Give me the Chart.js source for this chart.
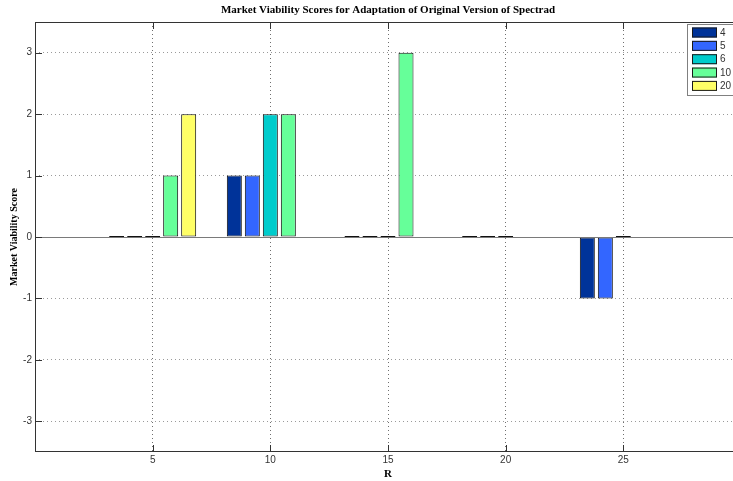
<!DOCTYPE html>
<html>
<head>
<meta charset="utf-8">
<script src="https://cdn.jsdelivr.net/npm/chart.js@4/dist/chart.umd.min.js"></script>
<style>
  html, body { margin: 0; padding: 0; overflow: hidden; background: #fff; width: 733px; height: 481px; }
  #wrap { position: absolute; left: 0; top: 0; width: 745px; height: 481px; }
</style>
</head>
<body>
<div id="wrap"><canvas id="c" width="745" height="481"></canvas></div>
<script>
// R values (group positions) and the score of each series at that R
const rValues = [5, 10, 15, 20, 25];
const seriesNames = ['4', '5', '6', '10', '20'];
const score4  = [0, 1, 0, 0, -1];
const score5  = [0, 1, 0, 0, -1];
const score6  = [0, 2, 0, 0, 0];
const score10 = [1, 2, 3, null, null];
const score20 = [2, null, null, null, null];
const xTicks = [5, 10, 15, 20, 25];
const yTicks = [-3, -2, -1, 0, 1, 2, 3];
const seriesColors = ['#003399', '#3366ff', '#00cccc', '#66ff99', '#ffff66'];

const allScores = [score4, score5, score6, score10, score20];

const datasets = allScores.map((arr, k) => ({
  label: seriesNames[k],
  data: rValues.map((x, i) => ({ x: x, y: arr[i] })),
  backgroundColor: seriesColors[k],
  borderColor: '#111111',
  borderWidth: 1,
  borderSkipped: false,
  minBarLength: 2,
  categoryPercentage: 0.765,
  barPercentage: 0.833
}));

const tickFont = { family: 'Liberation Sans', size: 10 };

// zero baseline, axes box with inward ticks, and boxed legend
const axesDecor = {
  id: 'axesDecor',
  afterDatasetsDraw(chart) {
    const ctx = chart.ctx;
    const ca = chart.chartArea;
    const xs = chart.scales.x, ys = chart.scales.y;
    ctx.save();
    // baseline at zero
    const y0 = Math.round(ys.getPixelForValue(0)) + 0.5;
    ctx.strokeStyle = '#7a7a7a';
    ctx.lineWidth = 1.2;
    ctx.beginPath();
    ctx.moveTo(ca.left, y0);
    ctx.lineTo(ca.right, y0);
    ctx.stroke();
    // box
    ctx.strokeStyle = '#333333';
    ctx.lineWidth = 1;
    ctx.strokeRect(ca.left + 0.5, ca.top + 0.5, ca.width - 1, ca.height - 1);
    // inward ticks
    const tl = 7;
    ctx.beginPath();
    xTicks.forEach(v => {
      const px = Math.round(xs.getPixelForValue(v)) + 0.5;
      ctx.moveTo(px, ca.bottom); ctx.lineTo(px, ca.bottom - tl);
      ctx.moveTo(px, ca.top); ctx.lineTo(px, ca.top + tl);
    });
    yTicks.forEach(v => {
      const py = Math.round(ys.getPixelForValue(v)) + 0.5;
      ctx.moveTo(ca.left, py); ctx.lineTo(ca.left + tl, py);
      ctx.moveTo(ca.right, py); ctx.lineTo(ca.right - tl, py);
    });
    ctx.stroke();
    // legend
    const lx = ca.right - 54, ly = ca.top + 2, lw = 50, lh = 71;
    ctx.fillStyle = '#ffffff';
    ctx.fillRect(lx, ly, lw, lh);
    ctx.strokeStyle = '#808080';
    ctx.strokeRect(lx + 0.5, ly + 0.5, lw, lh);
    ctx.font = '10px "Liberation Sans"';
    ctx.textBaseline = 'middle';
    ctx.textAlign = 'left';
    chart.data.datasets.forEach((ds, i) => {
      const sy = ly + 3.5 + i * 13.35;
      ctx.fillStyle = ds.backgroundColor;
      ctx.fillRect(lx + 5, sy, 25, 10);
      ctx.strokeStyle = '#1a1a1a';
      ctx.strokeRect(lx + 5.5, sy + 0.5, 24, 9);
      ctx.fillStyle = '#333333';
      ctx.fillText(ds.label, lx + 33, sy + 5.5);
    });
    ctx.restore();
  }
};

new Chart(document.getElementById('c'), {
  type: 'bar',
  data: { datasets: datasets },
  options: {
    responsive: false,
    animation: false,
    layout: { padding: { top: 0, right: 4, left: 0, bottom: 0 } },
    plugins: {
      legend: { display: false },
      tooltip: { enabled: false },
      title: {
        display: true,
        fullSize: false,
        text: 'Market Viability Scores for Adaptation of Original Version of Spectrad',
        font: { family: 'Liberation Serif', size: 11, weight: 'bold' },
        color: '#000000',
        padding: { top: 4, bottom: 4.8 }
      }
    },
    scales: {
      x: {
        type: 'linear',
        min: 0,
        max: 30,
        offset: false,
        afterBuildTicks: s => { s.ticks = xTicks.map(v => ({ value: v })); },
        afterFit: s => { s.height = 29; },
        grid: { color: '#6f6f6f', lineWidth: 1, drawTicks: false, offset: false },
        border: { display: false, dash: [1, 3] },
        ticks: { font: tickFont, color: '#333333', padding: 2, maxRotation: 0, autoSkip: false },
        title: {
          display: true,
          text: 'R',
          font: { family: 'Liberation Serif', size: 11, weight: 'bold' },
          color: '#000000',
          padding: { top: 0.4, bottom: 0 }
        }
      },
      y: {
        min: -3.5,
        max: 3.5,
        afterBuildTicks: s => { s.ticks = yTicks.map(v => ({ value: v })); },
        afterFit: s => { s.width = 35; },
        grid: { color: '#9a9a9a', lineWidth: 1, drawTicks: false },
        border: { display: false, dash: [1, 3] },
        ticks: { font: tickFont, color: '#333333', padding: 3 },
        title: {
          display: true,
          text: 'Market Viability Score',
          font: { family: 'Liberation Serif', size: 10, weight: 'bold' },
          color: '#000000',
          padding: { top: 8, bottom: 0 }
        }
      }
    }
  },
  plugins: [axesDecor]
});
</script>
</body>
</html>
